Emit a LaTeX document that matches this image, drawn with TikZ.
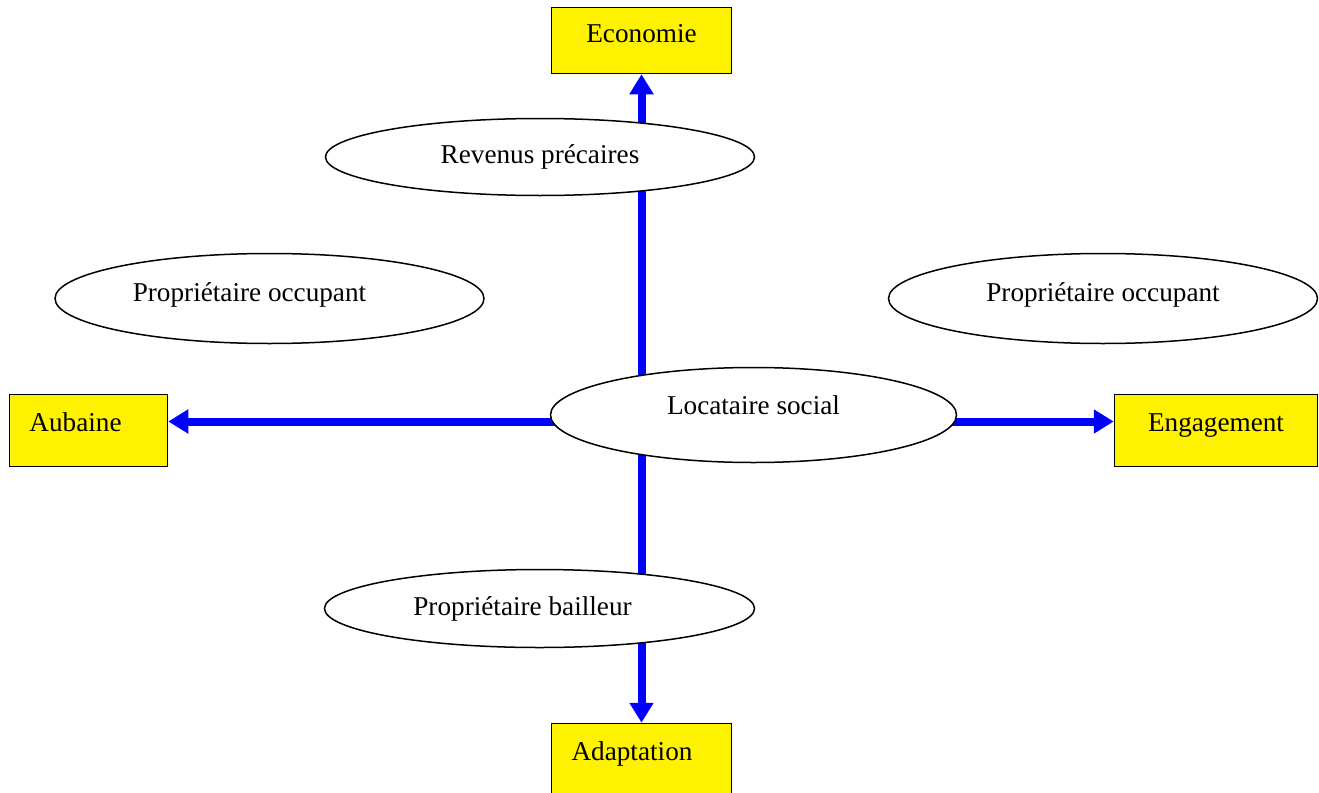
\documentclass[tikz,border=0pt]{standalone}
\usepackage{fontspec}
\setmainfont{Liberation Serif}
\usetikzlibrary{arrows.meta,shapes.geometric,backgrounds}
\tikzset{
  ell/.style={ellipse, draw=black, fill=white, line width=1.5bp, inner sep=0pt,
    font=\fontsize{27.2bp}{32bp}\selectfont},
  ybox/.style={rectangle, draw=black, fill=yellow, line width=1.5bp, inner sep=0pt,
    font=\fontsize{27.2bp}{32bp}\selectfont},
  arr/.style={draw={rgb,255:red,0;green,0;blue,255}, line width=8bp,
    -{Triangle[length=20bp,width=23bp]}}
}
\begin{document}
\begin{tikzpicture}[x=1bp,y=-1bp]
\useasboundingbox (0,0) rectangle (1319,792);
% boxes
\node[ybox, minimum width=180bp, minimum height=66bp, text height=14bp, text depth=9bp] (eco) at (641.5,40.5) {Economie};
\node[ybox, minimum width=158bp, minimum height=72bp, text height=11bp, text depth=10bp] (aub) at (88.5,430.5) {Aubaine\hspace*{26bp}};
\node[ybox, minimum width=203bp, minimum height=72bp, text height=11bp, text depth=10bp] (eng) at (1216,430.5) {Engagement};
\node[ybox, minimum width=180bp, minimum height=72bp, text height=11bp, text depth=10bp] (ada) at (641.5,759.5) {Adaptation\hspace*{19bp}};
% ellipses
\node[ell, minimum width=429bp, minimum height=77bp, text height=18bp, text depth=6bp] (rev) at (540,157) {Revenus précaires};
\node[ell, minimum width=406bp, minimum height=95bp, text height=10bp, text depth=12bp] (loc) at (753.5,415) {Locataire social};
\node[ell, minimum width=429bp, minimum height=90bp, text height=14bp, text depth=9bp] (pol) at (269.5,298.5) {Propriétaire occupant\hspace*{40bp}};
\node[ell, minimum width=429bp, minimum height=90bp, text height=14bp, text depth=9bp] (por) at (1103,298.5) {Propriétaire occupant};
\node[ell, minimum width=430bp, minimum height=78bp, text height=18bp, text depth=5bp] (pb) at (539.5,608.5) {Propriétaire bailleur\hspace*{34bp}};
% connectors
\coordinate (hl) at (753.5,421.5);
\begin{pgfonlayer}{background}
\draw[arr] (loc.center -| eco.south) -- (eco.south);
\draw[arr] (loc.center -| ada.north) -- (ada.north);
\draw[arr] (hl) -- (hl -| aub.east);
\draw[arr] (hl) -- (hl -| eng.west);
\end{pgfonlayer}
\end{tikzpicture}
\end{document}
